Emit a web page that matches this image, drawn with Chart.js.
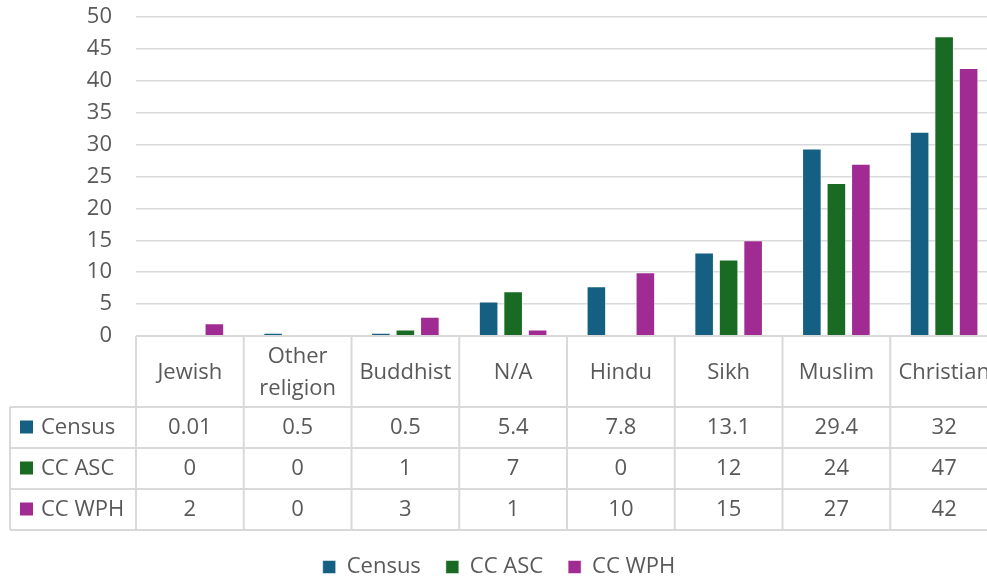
<!DOCTYPE html>
<html>
<head>
<meta charset="utf-8">
<script src="https://cdn.jsdelivr.net/npm/chart.js@4"></script>
<style>
  html, body { margin: 0; padding: 0; background: #fff; overflow: hidden; }
  #wrap { position: relative; width: 1000px; height: 588px; }
</style>
</head>
<body>
<div id="wrap"><canvas id="chart"></canvas></div>
<script>
// --- Data ---
var categories = ["Jewish", ["Other", "religion"], "Buddhist", "N/A", "Hindu", "Sikh", "Muslim", "Christian"];
var seriesNames = ["Census", "CC ASC", "CC WPH"];
var census = [0.01, 0.5, 0.5, 5.4, 7.8, 13.1, 29.4, 32];
var ccAsc = [0, 0, 1, 7, 0, 12, 24, 47];
var ccWph = [2, 0, 3, 1, 10, 15, 27, 42];
var yTicks = [0, 5, 10, 15, 20, 25, 30, 35, 40, 45, 50];

var colors = ["#156082", "#196B24", "#A02B93"];
var textColor = "#595959";
var lineColor = "#d9d9d9";
var fontFamily = "'Open Sans', 'Noto Sans', sans-serif";
var fontSize = 22;

// Data table layout under the plot
var headerH = 71, rowH = 41, tableLeft = 10;

var tablePlugin = {
    id: "dataTable",
    afterDraw: function(chart) {
        var ctx = chart.ctx, xs = chart.scales.x, area = chart.chartArea;
        var n = categories.length;
        var w = (xs.right - xs.left) / n;
        var top = area.bottom;
        var rows = [census, ccAsc, ccWph];
        var bottom = top + headerH + rowH * rows.length;

        ctx.save();
        ctx.strokeStyle = lineColor;
        ctx.lineWidth = 2;
        ctx.beginPath();
        // top border of header (plot baseline)
        ctx.moveTo(area.left, top); ctx.lineTo(xs.right, top);
        // horizontal row lines
        for (var r = 0; r <= rows.length; r++) {
            var y = top + headerH + rowH * r;
            ctx.moveTo(tableLeft, y); ctx.lineTo(xs.right, y);
        }
        // vertical lines
        for (var i = 0; i <= n; i++) {
            var x = xs.left + w * i;
            ctx.moveTo(x, top); ctx.lineTo(x, bottom);
        }
        ctx.moveTo(tableLeft, top + headerH); ctx.lineTo(tableLeft, bottom);
        ctx.stroke();

        ctx.fillStyle = textColor;
        ctx.font = fontSize + "px " + fontFamily;
        ctx.textAlign = "center";
        ctx.textBaseline = "middle";
        categories.forEach(function(cat, i) {
            var cx = xs.getPixelForValue(i);
            var lines = Array.isArray(cat) ? cat : [cat];
            var lh = 32;
            var y0 = top + 1 + headerH / 2 - (lines.length - 1) * lh / 2;
            lines.forEach(function(t, k) { ctx.fillText(t, cx, y0 + k * lh); });
        });
        rows.forEach(function(vals, r) {
            var cy = top + headerH + rowH * r + rowH / 2;
            vals.forEach(function(v, i) {
                ctx.fillText(String(v), xs.getPixelForValue(i), cy);
            });
            // legend key in the row header
            ctx.fillStyle = colors[r];
            ctx.fillRect(20, cy - 7, 13, 13);
            ctx.fillStyle = textColor;
            ctx.textAlign = "left";
            ctx.fillText(seriesNames[r], 41, cy);
            ctx.textAlign = "center";
        });
        ctx.restore();
    }
};

var datasets = [census, ccAsc, ccWph].map(function(vals, i) {
    return {
        label: seriesNames[i],
        data: vals,
        backgroundColor: colors[i],
        borderColor: "rgba(255,255,255,0.5)",
        borderWidth: 1,
        categoryPercentage: 0.682,
        barPercentage: 0.8
    };
});

new Chart(document.getElementById("chart"), {
    type: "bar",
    data: { labels: categories, datasets: datasets },
    plugins: [tablePlugin],
    options: {
        animation: false,
        responsive: true,
        maintainAspectRatio: false,
        layout: { padding: { top: 17, right: 2, left: 0, bottom: 0 } },
        scales: {
            x: {
                grid: { display: false },
                border: { display: false },
                ticks: { display: false },
                afterFit: function(scale) { scale.height = 195; }
            },
            y: {
                min: 0, max: 50,
                afterBuildTicks: function(scale) { scale.ticks = yTicks.map(function(v) { return { value: v }; }); },
                grid: { color: lineColor, lineWidth: 1.5, drawTicks: false },
                border: { display: false },
                ticks: { color: textColor, padding: 24, font: { family: fontFamily, size: fontSize } },
                afterFit: function(scale) {
                    scale.width = 136;
                    scale.paddingTop = 0;
                    scale.paddingBottom = 0;
                }
            }
        },
        plugins: {
            legend: {
                position: "bottom",
                labels: {
                    color: textColor,
                    boxWidth: 13, boxHeight: 13,
                    padding: 25,
                    font: { family: fontFamily, size: fontSize }
                }
            },
            tooltip: { enabled: true }
        }
    }
});
</script>
</body>
</html>
